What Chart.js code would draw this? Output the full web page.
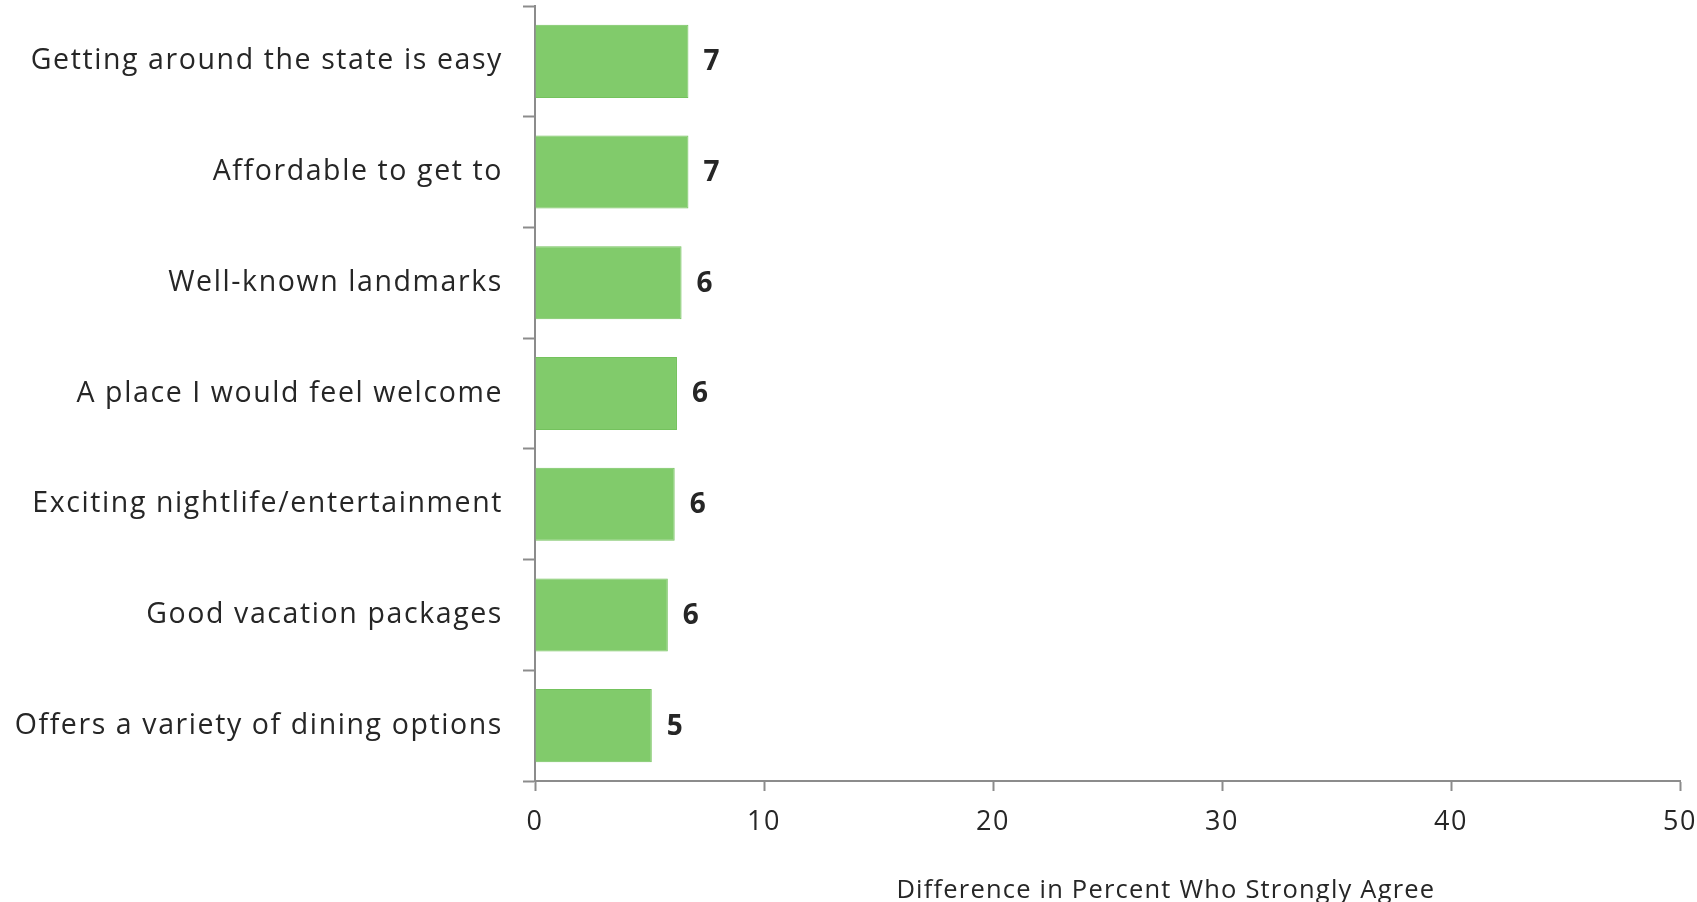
<!DOCTYPE html>
<html>
<head>
<meta charset="utf-8">
<script src="https://cdn.jsdelivr.net/npm/chart.js@4"></script>
<style>
  html, body { margin: 0; padding: 0; background: #fff; overflow: hidden; }
  #myChart { display: block; }
</style>
</head>
<body>
<canvas id="myChart" width="1697" height="902"></canvas>
<script>
"use strict";

// data
const categories = [
    'Getting around the state is easy',
    'Affordable to get to',
    'Well-known landmarks',
    'A place I would feel welcome',
    'Exciting nightlife/entertainment',
    'Good vacation packages',
    'Offers a variety of dining options'
];
const values = [6.7, 6.7, 6.4, 6.2, 6.1, 5.8, 5.1];
const valueLabels = ['7', '7', '6', '6', '6', '6', '5'];
const xTicks = [0, 10, 20, 30, 40, 50];
const xTitle = 'Difference in Percent Who Strongly Agree';

const FONT = '"Open Sans", Lato, sans-serif';
const AXIS = '#8c8c8c';
const TEXT = '#262626';

// the original text is spaced out a bit wider than Open Sans
const spacingPlugin = {
    id: 'spacingPlugin',
    beforeDraw(chart) {
        chart.ctx.letterSpacing = '1.6px';
    }
};

// value labels at bar ends + x axis title
const labelsPlugin = {
    id: 'labelsPlugin',
    afterDatasetsDraw(chart) {
        const ctx = chart.ctx;
        const meta = chart.getDatasetMeta(0);
        ctx.save();
        ctx.letterSpacing = '0px';
        ctx.fillStyle = TEXT;
        ctx.font = 'bold 28px ' + FONT;
        ctx.textAlign = 'left';
        ctx.textBaseline = 'middle';
        meta.data.forEach(function (bar, i) {
            ctx.fillText(valueLabels[i], bar.x + 15, bar.y + 1);
        });
        // axis title, sits a bit right of centre like the original
        const area = chart.chartArea;
        ctx.letterSpacing = '1.2px';
        ctx.font = '25.5px ' + FONT;
        ctx.textAlign = 'center';
        ctx.textBaseline = 'alphabetic';
        ctx.fillText(xTitle, area.left + area.width * 0.551, 898);
        ctx.restore();
    }
};

const ctx = document.getElementById('myChart');
const myChart = new Chart(ctx, {
    type: 'bar',
    data: {
        labels: categories,
        datasets: [{
            data: values,
            backgroundColor: '#81cb6b',
            borderColor: '#74c25d',
            borderWidth: 1,
            categoryPercentage: 1,
            barPercentage: 0.66
        }]
    },
    options: {
        indexAxis: 'y',
        responsive: false,
        animation: false,
        layout: { padding: { top: 6, right: 17, left: 0, bottom: 0 } },
        plugins: {
            legend: { display: false },
            tooltip: { enabled: false }
        },
        scales: {
            x: {
                min: 0,
                max: 50,
                afterBuildTicks(scale) {
                    scale.ticks = xTicks.map(v => ({ value: v }));
                },
                afterFit(scale) {
                    scale.height = 121;
                    scale.paddingLeft = 0;
                    scale.paddingRight = 0;
                },
                grid: {
                    drawOnChartArea: false,
                    drawTicks: true,
                    tickLength: 10,
                    tickWidth: 2,
                    tickColor: AXIS
                },
                border: { display: true, color: AXIS, width: 2 },
                ticks: {
                    color: TEXT,
                    font: { family: FONT, size: 27 },
                    padding: 15
                }
            },
            y: {
                afterFit(scale) {
                    scale.width = 535;
                    scale.paddingTop = 0;
                    scale.paddingBottom = 0;
                },
                grid: {
                    offset: true,
                    drawOnChartArea: false,
                    drawTicks: true,
                    tickLength: 12,
                    tickWidth: 2,
                    tickColor: AXIS
                },
                border: { display: true, color: AXIS, width: 2 },
                ticks: {
                    color: TEXT,
                    font: { family: FONT, size: 28.5 },
                    padding: 20
                }
            }
        }
    },
    plugins: [spacingPlugin, labelsPlugin]
});
</script>
</body>
</html>
